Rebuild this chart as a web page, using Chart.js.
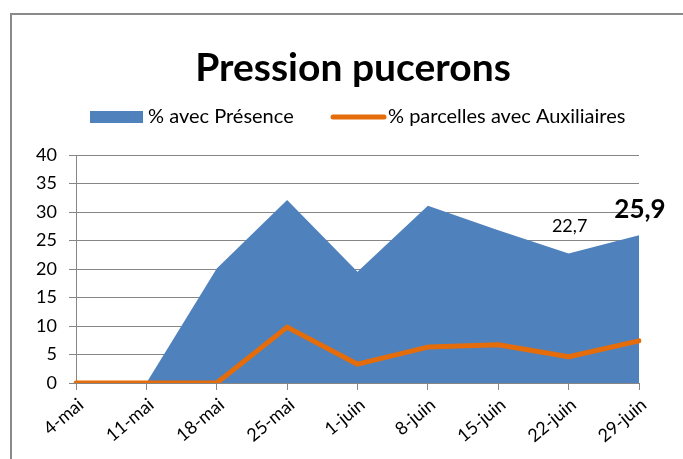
<!DOCTYPE html>
<html><head><meta charset="utf-8">
<script src="https://cdn.jsdelivr.net/npm/chart.js@4/dist/chart.umd.min.js"></script>
<style>html,body{margin:0;padding:0;background:#fff}#wrap{position:relative;width:683px;height:459px}</style>
</head><body><div id="wrap"><canvas id="c" width="683" height="459"></canvas></div>
<script>
const categories = ['4-mai','11-mai','18-mai','25-mai','1-juin','8-juin','15-juin','22-juin','29-juin'];
const presence = [0, 0, 20.1, 32.1, 19.5, 31.1, 26.8, 22.7, 25.9];
const auxiliaires = [0, 0, 0, 9.8, 3.3, 6.3, 6.7, 4.6, 7.4];
const yTicks = [0, 5, 10, 15, 20, 25, 30, 35, 40];
const titleText = 'Pression pucerons';
const seriesNames = ['% avec Présence', '% parcelles avec Auxiliaires'];
const valueLabels = ['', '', '', '', '', '', '', '22,7', '25,9'];

const FONT = 'Lato';
const BLUE = '#4F81BD';
const ORANGE = '#E46C0A';
const GRID = '#868686';

const decor = {
  id: 'decor',
  beforeDraw(chart) {
    const ctx = chart.ctx;
    ctx.save();
    ctx.fillStyle = '#fff';
    ctx.fillRect(0, 0, chart.width, chart.height);
    ctx.strokeStyle = '#8a8a8a';
    ctx.lineWidth = 2;
    ctx.strokeRect(11, 14, 800, 600);
    ctx.restore();
  },
  afterDraw(chart) {
    const ctx = chart.ctx;
    ctx.save();
    ctx.fillStyle = '#000';
    ctx.font = 'bold 39px ' + FONT;
    ctx.textAlign = 'center';
    ctx.textBaseline = 'alphabetic';
    ctx.fillText(titleText, 353, 81);
    ctx.font = '20px ' + FONT;
    ctx.textAlign = 'left';
    ctx.textBaseline = 'middle';
    ctx.fillStyle = BLUE;
    ctx.fillRect(90, 111, 53, 12);
    ctx.fillStyle = '#000';
    ctx.fillText(seriesNames[0], 148, 117);
    ctx.strokeStyle = ORANGE;
    ctx.lineWidth = 5;
    ctx.lineCap = 'round';
    ctx.beginPath(); ctx.moveTo(333, 117); ctx.lineTo(384, 117); ctx.stroke();
    ctx.fillText(seriesNames[1], 388, 117);
    ctx.restore();
  },
  afterDatasetsDraw(chart) {
    const ctx = chart.ctx;
    const meta = chart.getDatasetMeta(1);
    ctx.save();
    ctx.fillStyle = '#000';
    ctx.textAlign = 'center';
    ctx.textBaseline = 'middle';
    valueLabels.forEach((lab, i) => {
      if (!lab) return;
      const p = meta.data[i];
      const big = i === valueLabels.length - 1;
      ctx.font = (big ? 'bold 26px ' : '18px ') + FONT;
      ctx.fillText(lab, p.x + 1, p.y - (big ? 26 : 27));
    });
    ctx.restore();
  }
};

new Chart(document.getElementById('c'), {
  type: 'line',
  data: {
    labels: categories,
    datasets: [
      { label: seriesNames[1], data: auxiliaires, borderColor: ORANGE, borderWidth: 5,
        borderCapStyle: 'round', borderJoinStyle: 'round', pointRadius: 0, fill: false, tension: 0, order: 0 },
      { label: seriesNames[0], data: presence, borderWidth: 0, borderColor: BLUE,
        backgroundColor: BLUE, fill: 'origin', pointRadius: 0, tension: 0, order: 1 }
    ]
  },
  plugins: [decor],
  options: {
    responsive: false,
    animation: false,
    devicePixelRatio: 1,
    layout: { padding: { top: 155, right: 44, left: 0, bottom: 0 } },
    plugins: { legend: { display: false }, title: { display: false }, tooltip: { enabled: false } },
    scales: {
      x: {
        type: 'category', offset: false,
        grid: { drawOnChartArea: false, drawTicks: true, tickLength: 7, color: GRID },
        border: { color: GRID, width: 1 },
        ticks: { maxRotation: 40, minRotation: 40, color: '#000', font: { family: FONT, size: 18 }, padding: 4, labelOffset: 5 },
        afterFit(s) { s.height = 459 - 383; }
      },
      y: {
        min: 0, max: 40,
        afterBuildTicks(s) { s.ticks = yTicks.map(v => ({ value: v })); },
        grid: { color: GRID, tickLength: 7, lineWidth: 1 },
        border: { color: GRID, width: 1 },
        ticks: { color: '#000', font: { family: FONT, size: 18 }, padding: 12 },
        afterFit(s) { s.width = 76; }
      }
    }
  }
});
</script></body></html>
